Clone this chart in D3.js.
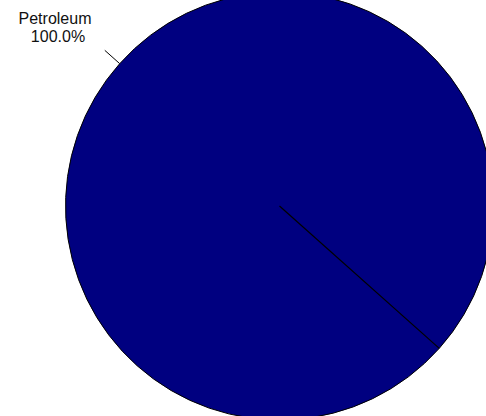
<!DOCTYPE html>
<html>
<head>
<meta charset="utf-8">
<script src="https://cdn.jsdelivr.net/npm/d3@7"></script>
<style>
html,body{margin:0;padding:0;background:#fff;}
svg{display:block;}
</style>
</head>
<body>
<svg id="chart" width="486" height="416"></svg>
<script>
const categories = ["Petroleum"];
const values = [100];
const colors = ["#000080"];

const W = 486, H = 416;
const cx = 279.5, cy = 206, R = 214;
const startDeg = 131.7;

const svg = d3.select("#chart");
const g = svg.append("g").attr("transform", `translate(${cx},${cy})`);

const pie = d3.pie().sort(null)
  .startAngle(startDeg * Math.PI / 180)
  .endAngle((startDeg + 360) * Math.PI / 180);
const arcs = pie(values);
const arc = d3.arc().innerRadius(0).outerRadius(R);

g.selectAll("path.slice").data(arcs).enter().append("path")
  .attr("class", "slice")
  .attr("d", arc)
  .attr("fill", (d, i) => colors[i])
  .attr("stroke", "#000")
  .attr("stroke-width", 1);

// radial boundary line for the full slice
arcs.forEach(d => {
  const a = d.startAngle;
  g.append("line")
    .attr("x1", 0).attr("y1", 0)
    .attr("x2", R * Math.sin(a)).attr("y2", -R * Math.cos(a))
    .attr("stroke", "#000").attr("stroke-width", 1.2);
});

const total = d3.sum(values);
arcs.forEach((d, i) => {
  const mid = (d.startAngle + d.endAngle) / 2;
  const sx = Math.sin(mid), sy = -Math.cos(mid);
  g.append("line")
    .attr("x1", R * sx).attr("y1", R * sy)
    .attr("x2", (R + 20) * sx).attr("y2", (R + 20) * sy)
    .attr("stroke", "#000").attr("stroke-width", 1);
  const lx = (R + 20) * sx - 50 + cx, ly = (R + 20) * sy + cy;
  const t = svg.append("text")
    .attr("x", 55).attr("y", 24)
    .attr("text-anchor", "middle")
    .attr("font-family", "Liberation Sans, Arial, sans-serif")
    .attr("font-size", 16)
    .attr("fill", "#111");
  t.append("tspan").attr("x", 55).attr("y", 24).text(categories[i]);
  t.append("tspan").attr("x", 58).attr("y", 42)
    .text((values[i] / total * 100).toFixed(1) + "%");
});
</script>
</body>
</html>
